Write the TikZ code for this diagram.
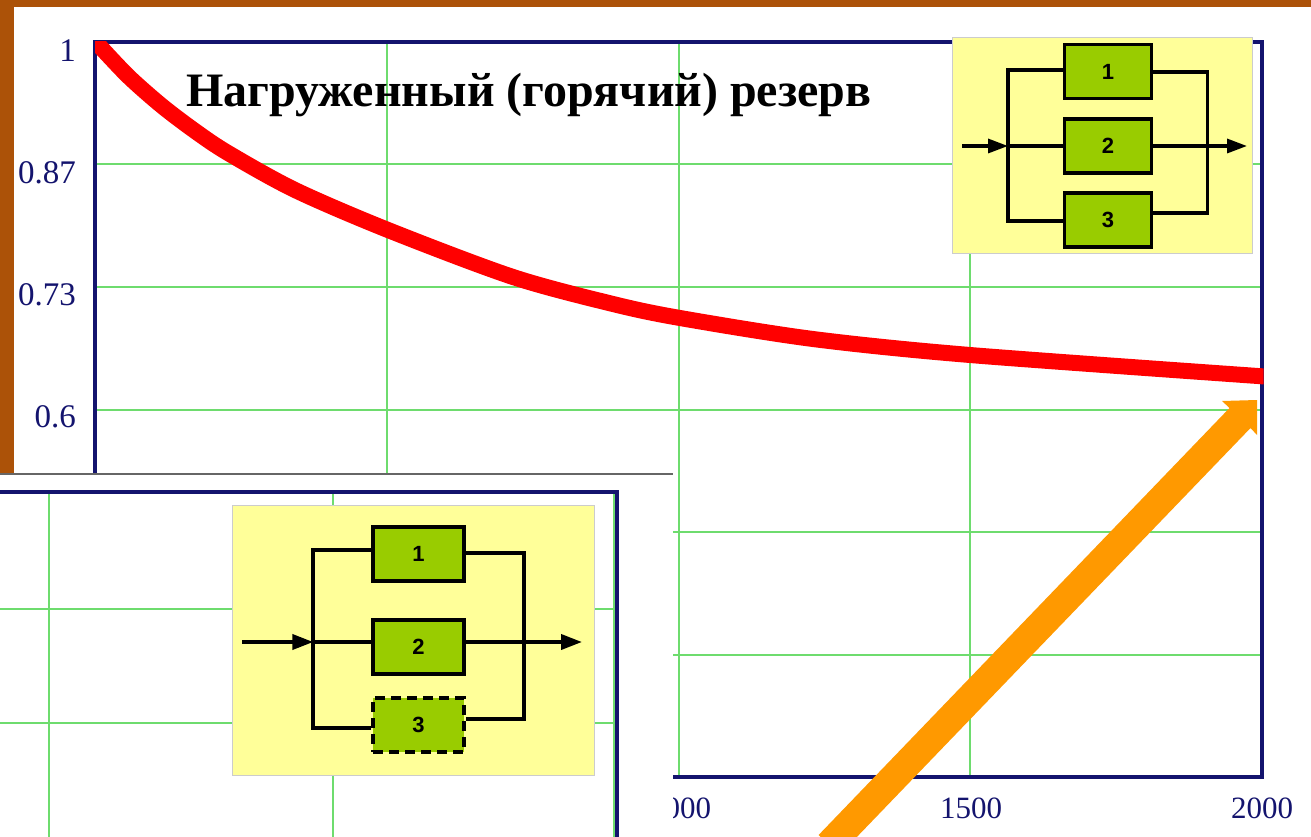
\documentclass[tikz,border=0pt]{standalone}
\usepackage{fontspec}
\setmainfont{Liberation Serif}
\newfontfamily\arialfont{Liberation Sans}
\usetikzlibrary{arrows.meta}
\definecolor{bgbrown}{RGB}{172,82,8}
\definecolor{navy}{RGB}{20,20,110}
\definecolor{gridgreen}{RGB}{110,220,110}
\definecolor{curvered}{RGB}{255,0,0}
\definecolor{paleyellow}{RGB}{255,255,153}
\definecolor{boxgreen}{RGB}{153,204,0}
\definecolor{arroworange}{RGB}{255,153,0}
\tikzset{
  gridline/.style={draw=gridgreen, line width=2pt},
  frameline/.style={draw=navy, line width=3.2pt},
  curveline/.style={draw=curvered, line width=16pt},
  axlabel/.style={text=navy, font=\fontsize{31}{33}\selectfont, inner sep=0pt},
  ylabel/.style={axlabel, font=\fontsize{33}{35}\selectfont},
  panelbg/.style={fill=paleyellow, draw=black!20, line width=0.8pt},
  elem/.style={draw=black, fill=boxgreen, line width=3.5pt, minimum width=87pt, minimum height=54pt, inner sep=0pt, font=\arialfont\bfseries\fontsize{22}{24}\selectfont},
  elemb/.style={elem, line width=4pt, minimum width=91pt},
  wire/.style={draw=black, line width=3.3pt},
  flow/.style={wire, -{Triangle[length=20pt,width=14pt]}},
  wireb/.style={draw=black, line width=3.8pt},
  flowb/.style={wireb, -{Triangle[length=21pt,width=15pt]}},
}
\begin{document}
\begin{tikzpicture}[x=1pt,y=-1pt]
\useasboundingbox (0,0) rectangle (1311,837);
\clip (0,0) rectangle (1311,837);
% background
\fill[bgbrown] (0,0) rectangle (1311,837);
\fill[white] (14,7) rectangle (1311,837);

% ---------- main chart ----------
\foreach \xx in {386.75,678.5,970.25} \draw[gridline] (\xx,42) -- (\xx,777);
\foreach \yy in {164.5,287,409.5,532,654.5} \draw[gridline] (95,\yy) -- (1262,\yy);
\draw[frameline] (95,42) rectangle (1262,777);

\node[ylabel, anchor=east] (y1) at (76,51) {1};
\node[ylabel, anchor=east] (y2) at (76,173) {0.87};
\node[ylabel, anchor=east] (y3) at (76,295) {0.73};
\node[ylabel, anchor=east] (y4) at (76,417) {0.6};
\node[axlabel] (x3) at (680,808) {1000};
\node[axlabel] (x4) at (971,808) {1500};
\node[axlabel] (x5) at (1262,808) {2000};

\begin{scope}
\clip (95,42) rectangle (1263.5,777);
\draw[curveline] plot[smooth, tension=0.5] coordinates {(95,41) (128,76) (162,106) (195,131) (228,153) (295,190) (388,230) (513,277) (613,304) (680,318) (813,339) (970,355) (1265,376.5)};
\end{scope}

\node[anchor=base west, inner sep=0pt, font=\bfseries\fontsize{48}{50}\selectfont] (title) at (186,107) {Нагруженный (горячий) резерв};

% ---------- top-right scheme ----------
\fill[panelbg] (952.5,37.5) rectangle (1252,253);
\node[elem] (a1) at (1108,71.5) {1};
\node[elem] (a2) at (1108,146) {2};
\node[elem] (a3) at (1108,220) {3};
\coordinate (aL1) at (1008,70);
\coordinate (aL2) at (1008,146);
\coordinate (aL3) at (1008,221);
\coordinate (aR1) at (1207.5,72);
\coordinate (aR2) at (1207.5,146);
\coordinate (aR3) at (1207.5,213);
\coordinate (ain) at (962,146);
\coordinate (aout) at (1247,146);
\draw[wire] (a1.west |- aL1) -- (aL1) -- (aL3) -- (a3.west |- aL3);
\draw[wire] (a1.east |- aR1) -- (aR1) -- (aR3) -- (a3.east |- aR3);
\draw[wire] (aL2) -- (a2.west |- aL2);
\draw[wire] (a2.east |- aR2) -- (aR2);
\draw[flow] (ain) -- (aL2);
\draw[flow] (aR2) -- (aout);

% ---------- lower-left overlay panel ----------
\fill[white] (0,475) rectangle (673,837);
\draw[draw=black!60, line width=1.5pt] (0,474) -- (673,474);
\foreach \xx in {49,333,614} \draw[gridline] (\xx,492) -- (\xx,840);
\foreach \yy in {609,723} \draw[gridline] (-2,\yy) -- (617,\yy);
\draw[frameline] (-5,492) -- (617,492) -- (617,845);

\fill[panelbg] (232,505) rectangle (594,775);
\node[elemb] (b1) at (418.5,554) {1};
\node[elemb] (b2) at (418.5,646.5) {2};
\node[elemb, dash pattern=on 10pt off 6pt, line width=4.5pt] (b3) at (418.5,725) {3};
\coordinate (bL1) at (313.3,550);
\coordinate (bL2) at (313.3,642);
\coordinate (bL3) at (313.3,727.7);
\coordinate (bR1) at (524,553);
\coordinate (bR2) at (524,642);
\coordinate (bR3) at (524,719);
\coordinate (bin) at (242,642);
\coordinate (bout) at (582,642);
\draw[wireb] (b1.west |- bL1) -- (bL1) -- (bL3) -- (b3.west |- bL3);
\draw[wireb] (b1.east |- bR1) -- (bR1) -- (bR3) -- (b3.east |- bR3);
\draw[wireb] (bL2) -- (b2.west |- bL2);
\draw[wireb] (b2.east |- bR2) -- (bR2);
\draw[flowb] (bin) -- (bL2);
\draw[flowb] (bR2) -- (bout);

% ---------- orange pointer arrow ----------
\fill[arroworange] (818.6,835) -- (1229.5,408) -- (1222,401) -- (1257,400) -- (1257,435) -- (1250.5,428) -- (839.5,855) -- cycle;
\end{tikzpicture}
\end{document}
